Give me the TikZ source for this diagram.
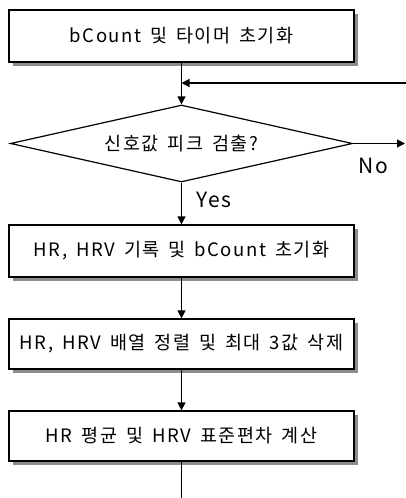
\documentclass[tikz,border=0pt]{standalone}
\usepackage{fontspec}
\setmainfont[LetterSpace=8,WordSpace=1.6]{Noto Sans CJK KR}
\usetikzlibrary{shapes.geometric,arrows.meta,shadows}
\begin{document}
\begin{tikzpicture}[x=1pt,y=-1pt,
  every node/.style={font=\fontsize{18.5}{20}\selectfont, inner sep=0pt},
  procbox/.style={draw=black, line width=1.2pt, fill=white, minimum width=345pt,
    drop shadow={shadow xshift=4pt, shadow yshift=-4pt, fill=black!45, opacity=1}},
  decision/.style={draw=black, line width=1.2pt, diamond, aspect=4.45,
    minimum width=342pt, minimum height=77pt},
  flow/.style={line width=1.2pt, -{Triangle[length=8pt,width=8pt]}},
  plain/.style={line width=1.2pt},
  lbl/.style={font=\fontsize{21}{23}\selectfont}]
\useasboundingbox (0,0) rectangle (406,498);
\node[procbox, minimum height=52pt] (b1) at (181.5,36) {bCount 및 타이머 초기화};
\node[decision] (d) at (181.5,143.5) {신호값 피크 검출?};
\node[procbox, minimum height=52pt] (b2) at (181.5,251) {HR, HRV 기록 및 bCount 초기화};
\node[procbox, minimum height=50pt] (b3) at (181.5,344) {HR, HRV 배열 정렬 및 최대 3값 삭제};
\node[procbox, minimum height=50pt] (b4) at (181.5,436) {HR 평균 및 HRV 표준편차 계산};
\coordinate (j) at (181.5,83);
\coordinate (fb) at (406,83);
\coordinate (noend) at (405,143.5);
\coordinate (bot) at (181.5,498);
\draw[flow] (b1.south) -- (d.north);
\draw[flow] (fb) -- (j);
\draw[flow] (d.east) -- (noend);
\draw[flow] (d.south) -- (b2.north);
\draw[flow] (b2.south) -- (b3.north);
\draw[flow] (b3.south) -- (b4.north);
\draw[plain] (b4.south) -- (bot);
\node[lbl] (no) at (373,166) {No};
\node[lbl] (yes) at (214,200) {Yes};
\end{tikzpicture}
\end{document}
